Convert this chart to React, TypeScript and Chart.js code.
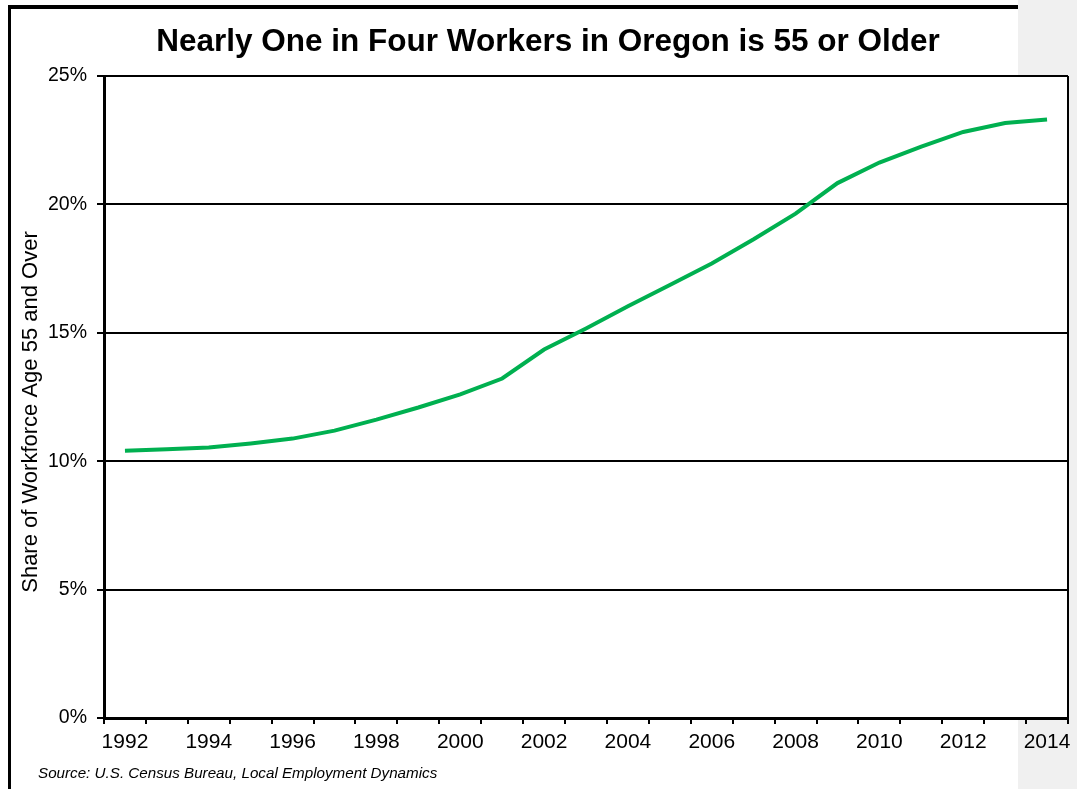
import React, { useEffect, useRef } from "react";
import { Chart, registerables } from "chart.js";

Chart.register(...registerables);

const years: string[] = [
  "1992", "1993", "1994", "1995", "1996", "1997", "1998", "1999", "2000", "2001", "2002", "2003",
  "2004", "2005", "2006", "2007", "2008", "2009", "2010", "2011", "2012", "2013", "2014",
];
const shareOlder: number[] = [
  10.41, 10.47, 10.53, 10.69, 10.88, 11.19, 11.62, 12.09, 12.6, 13.22, 14.35, 15.17,
  16.03, 16.86, 17.7, 18.64, 19.64, 20.83, 21.63, 22.25, 22.82, 23.17, 23.31,
];
const yTicks: number[] = [0, 5, 10, 15, 20, 25];

const chartTitle = "Nearly One in Four Workers in Oregon is 55 or Older";
const yAxisTitle = "Share of Workforce Age 55 and Over";
const sourceNote = "Source: U.S. Census Bureau, Local Employment Dynamics";

const FONT = "'Liberation Sans', Arial, sans-serif";

const textPlugin = {
  id: "texts",
  beforeDraw(chart: any) {
    const { ctx, chartArea } = chart;
    ctx.save();
    ctx.fillStyle = "#fff";
    ctx.fillRect(chartArea.left, chartArea.top, chartArea.right - chartArea.left, chartArea.bottom - chartArea.top);
    ctx.restore();
  },
  afterDraw(chart: any) {
    const { ctx, chartArea } = chart;
    ctx.save();
    ctx.strokeStyle = "#000";
    ctx.lineWidth = 2;
    ctx.beginPath();
    ctx.moveTo(chartArea.right, chartArea.top);
    ctx.lineTo(chartArea.right, chartArea.bottom);
    ctx.stroke();

    ctx.fillStyle = "#000";
    ctx.textAlign = "center";
    ctx.textBaseline = "middle";
    ctx.font = `bold 31.5px ${FONT}`;
    ctx.fillText(chartTitle, 548, 42);

    ctx.save();
    ctx.translate(31, 412);
    ctx.rotate(-Math.PI / 2);
    ctx.font = `22px ${FONT}`;
    ctx.fillText(yAxisTitle, 0, 0);
    ctx.restore();

    ctx.textAlign = "left";
    ctx.font = `italic 15.2px ${FONT}`;
    ctx.fillText(sourceNote, 38, 774);
    ctx.restore();
  },
};

export default function App() {
  const ref = useRef<HTMLCanvasElement | null>(null);

  useEffect(() => {
    if (!ref.current) return;
    const chart = new Chart(ref.current, {
      type: "line",
      data: {
        labels: years,
        datasets: [
          {
            data: shareOlder,
            borderColor: "#00B050",
            borderWidth: 4,
            pointRadius: 0,
            tension: 0,
            fill: false,
          },
        ],
      },
      options: {
        animation: false,
        responsive: false,
        layout: { padding: { left: 0, top: 76, right: 9, bottom: 0 } },
        plugins: { legend: { display: false }, tooltip: { enabled: false }, title: { display: false } },
        scales: {
          x: {
            type: "category",
            offset: true,
            afterFit: (s: any) => {
              s.height = 71;
            },
            grid: {
              offset: true,
              drawOnChartArea: false,
              drawTicks: true,
              tickLength: 6,
              color: "#000",
              lineWidth: 2,
            },
            border: { display: true, color: "#000", width: 3 },
            ticks: {
              autoSkip: false,
              maxRotation: 0,
              padding: 6,
              color: "#000",
              font: { family: FONT, size: 21 },
              callback: (_v: any, i: number) => (i % 2 === 0 ? years[i] : ""),
            },
          },
          y: {
            min: 0,
            max: 25,
            afterFit: (s: any) => {
              s.width = 104;
            },
            afterBuildTicks: (s: any) => {
              s.ticks = yTicks.map((v) => ({ value: v }));
            },
            grid: {
              color: "#000",
              lineWidth: 2,
              drawTicks: true,
              tickLength: 7,
            },
            border: { display: true, color: "#000", width: 3 },
            ticks: {
              padding: 10,
              color: "#000",
              font: { family: FONT, size: 19.5 },
              callback: (v: any) => `${v}%`,
            },
          },
        },
      },
      plugins: [textPlugin],
    });
    return () => chart.destroy();
  }, []);

  return (
    <div style={{ position: "absolute", left: 0, top: 0, width: 1077, height: 789, background: "#fff", overflow: "hidden" }}>
      <div style={{ position: "absolute", left: 1018, top: 0, width: 59, height: 789, background: "#f0f0f0" }} />
      <div
        style={{
          position: "absolute",
          left: 8,
          top: 5,
          width: 1010,
          height: 800,
          borderLeft: "3px solid #000",
          borderTop: "4px solid #000",
          boxSizing: "border-box",
        }}
      />
      <canvas ref={ref} width={1077} height={789} style={{ position: "absolute", left: 0, top: 0 }} />
    </div>
  );
}
